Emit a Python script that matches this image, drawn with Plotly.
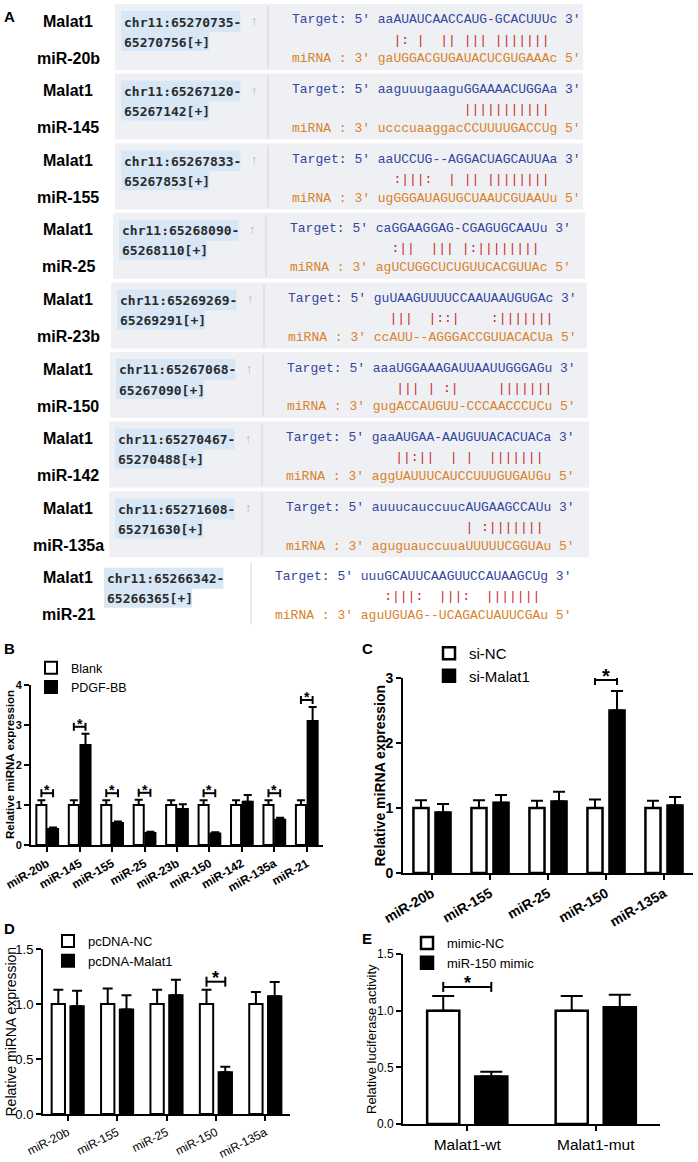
import plotly.graph_objects as go

W, H = 698, 1162
ARIAL = "Arial, Liberation Sans, sans-serif"
MONO = "Liberation Mono, Courier New, monospace"
SMONO = "DejaVu Sans Mono, monospace"

# ---------------- Panel A data ----------------
lnc_name = "Malat1"
mirna_names = ["miR-20b", "miR-145", "miR-155", "miR-25", "miR-23b",
               "miR-150", "miR-142", "miR-135a", "miR-21"]
chr_start = ["65270735", "65267120", "65267833", "65268090", "65269269",
             "65267068", "65270467", "65271608", "65266342"]
chr_end = ["65270756", "65267142", "65267853", "65268110", "65269291",
           "65267090", "65270488", "65271630", "65266365"]
target_seq = ["aaAUAUCAACCAUG-GCACUUUc", "aaguuugaaguGGAAAACUGGAa",
              "aaUCCUG--AGGACUAGCAUUAa", "caGGAAGGAG-CGAGUGCAAUu",
              "guUAAGUUUUCCAAUAAUGUGAc", "aaaUGGAAAGAUUAAUUGGGAGu",
              "gaaAUGAA-AAUGUUACACUACa", "auuucauccuucAUGAAGCCAUu",
              "uuuGCAUUCAAGUUCCAUAAGCUg"]
pair_seq = ["  |: |  || ||| |||||||", "           |||||||||||",
            "  :|||:  | || ||||||||", "  :||  ||| |:||||||||",
            "  |||  |::|    :|||||||", "   ||| | :|     |||||||",
            "   ||:||  | |  |||||||", "            | :|||||||",
            "   :|||:  |||:  |||||||"]
mirna_seq = ["gaUGGACGUGAUACUCGUGAAAc", "ucccuaaggacCCUUUUGACCUg",
             "ugGGGAUAGUGCUAAUCGUAAUu", "agUCUGGCUCUGUUCACGUUAc",
             "ccAUU--AGGGACCGUUACACUa", "gugACCAUGUU-CCCAACCCUCu",
             "aggUAUUUCAUCCUUUGUGAUGu", "aguguauccuuaUUUUUCGGUAu",
             "aguUGUAG--UCAGACUAUUCGAu"]

# ---------------- Panel B data ----------------
cats_B = ["miR-20b", "miR-145", "miR-155", "miR-25", "miR-23b",
          "miR-150", "miR-142", "miR-135a", "miR-21"]
blank_B = [1.0, 1.0, 1.0, 1.0, 1.0, 1.0, 1.0, 1.0, 1.0]
blank_err_B = [0.12, 0.12, 0.12, 0.13, 0.12, 0.12, 0.12, 0.12, 0.12]
pdgf_B = [0.40, 2.50, 0.55, 0.30, 0.90, 0.29, 1.08, 0.63, 3.10]
pdgf_err_B = [0.04, 0.28, 0.04, 0.03, 0.12, 0.03, 0.17, 0.05, 0.35]
sig_B = [True, True, True, True, False, True, False, True, True]

# ---------------- Panel C data ----------------
cats_C = ["miR-20b", "miR-155", "miR-25", "miR-150", "miR-135a"]
sinc_C = [1.0, 1.0, 1.0, 1.0, 1.0]
sinc_err_C = [0.12, 0.12, 0.11, 0.13, 0.11]
simal_C = [0.93, 1.08, 1.10, 2.50, 1.04]
simal_err_C = [0.13, 0.12, 0.15, 0.30, 0.13]
sig_C = [False, False, False, True, False]

# ---------------- Panel D data ----------------
cats_D = ["miR-20b", "miR-155", "miR-25", "miR-150", "miR-135a"]
pcnc_D = [1.0, 1.0, 1.0, 1.0, 1.0]
pcnc_err_D = [0.13, 0.14, 0.13, 0.13, 0.11]
pcmal_D = [0.98, 0.95, 1.08, 0.38, 1.07]
pcmal_err_D = [0.14, 0.13, 0.14, 0.05, 0.13]
sig_D = [False, False, False, True, False]

# ---------------- Panel E data ----------------
cats_E = ["Malat1-wt", "Malat1-mut"]
mnc_E = [1.0, 1.0]
mnc_err_E = [0.13, 0.13]
mim_E = [0.42, 1.03]
mim_err_E = [0.04, 0.11]
sig_E = [True, False]


def fx(x):
    return x / W


def fy(y):
    return 1 - y / H


NB = "\u00a0"
fig = go.Figure()
shapes = []
annotations = []

# ---------------- Panel A drawing ----------------
TARGET_C = "#3445a0"
MIRNA_C = "#d9822b"
PAIR_C = "#c8282a"
row_top0, row_pitch, row_h = 4, 69.6, 66
row_shift = [0, 0, 0, -2, -4, -5, -6, -6, -17]
chw = 7.83
for r in range(len(mirna_names)):
    top = row_top0 + r * row_pitch
    s = row_shift[r]
    last = r == len(mirna_names) - 1
    if not last:
        shapes.append(dict(type="rect", xref="paper", yref="paper",
                           x0=fx(115 + s), x1=fx(583 - s), y0=fy(top), y1=fy(top + row_h),
                           fillcolor="#eff0f3", line=dict(width=0), layer="below"))
    shapes.append(dict(type="line", xref="paper", yref="paper",
                       x0=fx(268 + s), x1=fx(268 + s), y0=fy(top + 2), y1=fy(top + row_h - 2),
                       line=dict(color="#d3d4d9", width=1)))
    l1 = "chr11:" + chr_start[r] + "-"
    l2 = chr_end[r] + "[+]"
    for txt, yc, y0, y1 in [(l1, 18, 7, 28), (l2, 38, 28, 47)]:
        shapes.append(dict(type="rect", xref="paper", yref="paper",
                           x0=fx(121 + s), x1=fx(123 + s + len(txt) * chw),
                           y0=fy(top + y0), y1=fy(top + y1),
                           fillcolor="#d8e7f6", line=dict(width=0), layer="below"))
        annotations.append(dict(text=txt, x=fx(122 + s), y=fy(top + yc), xref="paper", yref="paper",
                                xanchor="left", yanchor="middle", showarrow=False,
                                font=dict(family=SMONO, size=13, color="#2b2b2b", weight="bold")))
    if not last:
        annotations.append(dict(text="\u2191", x=fx(254 + s), y=fy(top + 17), xref="paper", yref="paper",
                                xanchor="center", yanchor="middle", showarrow=False,
                                font=dict(family=ARIAL, size=12, color="#b0b0b0")))
    tline = "Target:" + NB + "5'" + NB + target_seq[r] + NB + "3'"
    pline = NB * 11 + pair_seq[r].replace(" ", NB)
    mline = "miRNA" + NB + ":" + NB + "3'" + NB + mirna_seq[r] + NB + "5'"
    for txt, yc, col in [(tline, 16, TARGET_C), (pline, 36, PAIR_C), (mline, 55, MIRNA_C)]:
        annotations.append(dict(text=txt, x=fx(290 + s), y=fy(top + yc), xref="paper", yref="paper",
                                xanchor="left", yanchor="middle", showarrow=False,
                                font=dict(family=MONO, size=13, color=col)))
    annotations.append(dict(text=lnc_name, x=fx(68), y=fy(top + 17), xref="paper", yref="paper",
                            xanchor="center", yanchor="middle", showarrow=False,
                            font=dict(family=ARIAL, size=16, color="black", weight="bold")))
    annotations.append(dict(text=mirna_names[r], x=fx(68), y=fy(top + 54), xref="paper", yref="paper",
                            xanchor="center", yanchor="middle", showarrow=False,
                            font=dict(family=ARIAL, size=16, color="black", weight="bold")))


# ---------------- Bar panels ----------------
def bar_panel(k, cats, v1, e1, v2, e2, sig, n1, n2, xd, yd, yr, dtick, tfmt,
              off, w, cap, lw, tick_bold, tick_size, xtick_size, angle,
              ytitle, ytitle_x, ytitle_size, ytitle_bold, leg, star_size, br_px, pad_px):
    xa = "x" if k == 1 else "x%d" % k
    ya = "y" if k == 1 else "y%d" % k
    lg = "legend" if k == 1 else "legend%d" % k
    n = len(cats)
    ppu = (yd[0] - yd[1]) / (yr[1] - yr[0])
    fig.add_trace(go.Bar(x=[i - off for i in range(n)], y=v1, width=w, name=n1,
                         marker=dict(color="white", line=dict(color="black", width=lw)),
                         error_y=dict(type="data", array=e1, arrayminus=[0] * n, symmetric=False,
                                      color="black", thickness=2, width=cap),
                         xaxis=xa, yaxis=ya, legend=lg, hoverinfo="skip"))
    fig.add_trace(go.Bar(x=[i + off for i in range(n)], y=v2, width=w, name=n2,
                         marker=dict(color="black", line=dict(color="black", width=lw)),
                         error_y=dict(type="data", array=e2, arrayminus=[0] * n, symmetric=False,
                                      color="black", thickness=2, width=cap),
                         xaxis=xa, yaxis=ya, legend=lg, hoverinfo="skip"))
    bx, by = [], []
    dy = br_px / ppu
    pad = pad_px / ppu
    for i in range(n):
        if not sig[i]:
            continue
        h = max(v1[i] + e1[i], v2[i] + e2[i]) + pad
        a, b = i - off, i + off
        bx += [a, a, None, a, b, None, b, b, None]
        by += [h - dy, h + dy, None, h, h, None, h - dy, h + dy, None]
        annotations.append(dict(text="*", x=i, y=h, xref=xa, yref=ya, xanchor="center",
                                yanchor="middle", showarrow=False, yshift=star_size * 0.2,
                                font=dict(family=ARIAL, size=star_size, color="black", weight="bold")))
    fig.add_trace(go.Scatter(x=bx, y=by, mode="lines", line=dict(color="black", width=2),
                             showlegend=False, hoverinfo="skip", cliponaxis=False,
                             xaxis=xa, yaxis=ya))
    tw = "bold" if tick_bold else "normal"
    axcommon = dict(showline=True, linecolor="black", linewidth=2, ticks="outside",
                    ticklen=5, tickwidth=2, tickcolor="black", showgrid=False, zeroline=False,
                    automargin=False)
    fig.layout["xaxis" if k == 1 else "xaxis%d" % k] = dict(
        domain=[fx(xd[0]), fx(xd[1])], range=[-0.5, n - 0.5], anchor=ya,
        tickvals=list(range(n)), ticktext=cats, tickangle=angle,
        tickfont=dict(family=ARIAL, size=xtick_size, color="black", weight=tw), **axcommon)
    fig.layout["yaxis" if k == 1 else "yaxis%d" % k] = dict(
        domain=[fy(yd[0]), fy(yd[1])], range=yr, dtick=dtick, tickformat=tfmt, anchor=xa,
        tickfont=dict(family=ARIAL, size=tick_size, color="black", weight=tw), **axcommon)
    annotations.append(dict(text=ytitle, x=fx(ytitle_x), y=fy((yd[0] + yd[1]) / 2),
                            xref="paper", yref="paper", textangle=-90, showarrow=False,
                            xanchor="center", yanchor="middle",
                            font=dict(family=ARIAL, size=ytitle_size, color="black",
                                      weight="bold" if ytitle_bold else "normal")))
    fig.layout[lg] = dict(x=fx(leg[0]), y=fy(leg[1]), xanchor="left", yanchor="top",
                          bgcolor="rgba(0,0,0,0)", font=dict(family=ARIAL, size=leg[2], color="black"),
                          tracegroupgap=0)


bar_panel(1, cats_B, blank_B, blank_err_B, pdgf_B, pdgf_err_B, sig_B, "Blank", "PDGF-BB",
          (31, 323), (845, 685), [0, 4], 1, "d", 0.18, 0.31, 4, 2, True, 11, 12, -30,
          "Relative miRNA expression", 10, 11.5, True, (31, 653, 12.5), 14, 4, 7)
bar_panel(2, cats_C, sinc_C, sinc_err_C, simal_C, simal_err_C, sig_C, "si-NC", "si-Malat1",
          (403, 693), (873, 678), [0, 3], 1, "d", 0.19, 0.26, 6, 2.5, True, 14, 14, -30,
          "Relative miRNA expression", 379, 14, True, (429, 637, 15), 20, 5, 11)
bar_panel(3, cats_D, pcnc_D, pcnc_err_D, pcmal_D, pcmal_err_D, sig_D, "pcDNA-NC", "pcDNA-Malat1",
          (43, 290), (1114, 949), [0, 1.5], 0.5, ".1f", 0.19, 0.27, 5, 2, False, 13, 12, -27,
          "Relative miRNA expression", 10, 14, False, (48, 926, 13), 18, 5, 8)
bar_panel(4, cats_E, mnc_E, mnc_err_E, mim_E, mim_err_E, sig_E, "mimic-NC", "miR-150 mimic",
          (403, 660), (1124, 954), [0, 1.5], 0.5, ".1f", 0.187, 0.25, 11, 2.5, False, 12, 15.5, 0,
          "Relative luciferase activity", 371, 13, False, (407, 928, 13), 18, 5, 9)

# panel letters
for lab, x, y in [("A", 9, 16), ("B", 9, 648), ("C", 368, 648), ("D", 9, 928), ("E", 367, 938)]:
    annotations.append(dict(text=lab, x=fx(x), y=fy(y), xref="paper", yref="paper",
                            xanchor="center", yanchor="middle", showarrow=False,
                            font=dict(family=ARIAL, size=15, color="black", weight="bold")))

fig.update_layout(width=W, height=H, margin=dict(l=0, r=0, t=0, b=0, autoexpand=False),
                  paper_bgcolor="white", plot_bgcolor="rgba(0,0,0,0)",
                  barmode="overlay", shapes=shapes, annotations=annotations,
                  showlegend=True)

fig.write_html("out.html", config={"displayModeBar": False},
               post_script="document.body.style.margin='0';document.body.style.padding='0';")
